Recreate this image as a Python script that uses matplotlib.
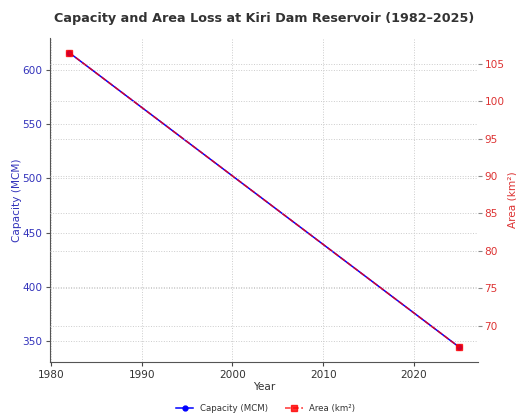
import matplotlib
matplotlib.use("Agg")
import matplotlib.pyplot as plt

years = [1982, 2025]
capacity = [615.6, 344.5]   # MCM
area = [106.5, 67.1]        # km²

plt.rcParams['font.family'] = ['DejaVu Sans']
plt.rcParams['text.color'] = '#333333'

fig = plt.figure(figsize=(5.16, 4.16), dpi=100)
ax1 = fig.add_axes([0.097, 0.130, 0.830, 0.779])
ax2 = ax1.twinx()

# Capacidad (eje izquierdo)
l1, = ax1.plot(years, capacity, color='blue', marker='o', markersize=3.5,
               linewidth=1.1, label='Capacity (MCM)')
# Área (eje derecho)
l2, = ax2.plot(years, area, color='red', linestyle='--', marker='s', markersize=4.5,
               linewidth=1.1, alpha=0.8, label='Area (km²)')

ax1.set_xlim(1979.9, 2027.1)
ax1.set_xticks([1980, 1990, 2000, 2010, 2020])
ax1.set_yticks([350, 400, 450, 500, 550, 600])
ax2.set_yticks([70, 75, 80, 85, 90, 95, 100, 105])

ax1.set_xlabel('Year', fontsize=7.6, color='#333333', labelpad=1.5)
ax1.set_ylabel('Capacity (MCM)', fontsize=7.6, color='#3333bb', labelpad=0)
ax2.set_ylabel('Area (km²)', fontsize=7.6, color='#dd3333', labelpad=2)

ax1.tick_params(axis='x', labelsize=7.6, colors='#444444', labelcolor='#333333', length=3, pad=2.5)
ax1.tick_params(axis='y', labelsize=7.6, colors='#555555', labelcolor='#3333bb', length=3, pad=2.5)
ax2.tick_params(axis='y', labelsize=7.6, colors='#888888', labelcolor='#dd3333', length=3, pad=1.5)

for sp in ['top', 'right']:
    ax1.spines[sp].set_visible(False)
for sp in ['top', 'right', 'left', 'bottom']:
    ax2.spines[sp].set_visible(False)
ax1.spines['left'].set_color('#555555')
ax1.spines['bottom'].set_color('#555555')

ax1.grid(True, linestyle=':', color='#cccccc', linewidth=0.7)
ax2.grid(True, axis='y', linestyle=':', color='#cccccc', linewidth=0.7)
ax1.set_axisbelow(True)

fig.suptitle('Capacity and Area Loss at Kiri Dam Reservoir (1982–2025)',
             fontsize=9.2, fontweight='bold', color='#333333', x=0.512, y=0.972)

fig.legend([l1, l2], ['Capacity (MCM)', 'Area (km²)'], loc='center',
           bbox_to_anchor=(0.515, 0.018), ncol=2, frameon=False, fontsize=6.2,
           handlelength=2.0, columnspacing=2.0)

fig.savefig('out.png', dpi=100)
